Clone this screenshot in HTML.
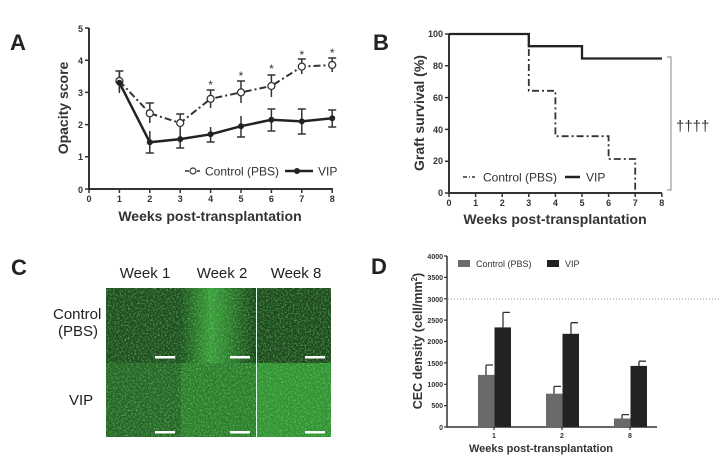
<!DOCTYPE html>
<html><head><meta charset="utf-8"><style>
html,body{margin:0;padding:0;background:#fff;}
svg{display:block;font-family:"Liberation Sans",Arial,sans-serif;}
</style></head><body>
<svg width="720" height="461" viewBox="0 0 720 461" xmlns="http://www.w3.org/2000/svg">
<defs>
<filter id="noise" x="0" y="0" width="100%" height="100%">
<feTurbulence type="fractalNoise" baseFrequency="0.6" numOctaves="2" seed="3" result="t"/>
<feColorMatrix in="t" type="matrix" values="0 0 0 0 0.2  0 0 0 0 0.85  0 0 0 0 0.2  0 0 0 2.2 -0.95" result="c"/>
<feComposite in="c" in2="SourceGraphic" operator="in"/>
</filter>
<linearGradient id="w2" x1="0" x2="1" y1="0" y2="0">
<stop offset="0" stop-color="#1d4d1d"/><stop offset="0.4" stop-color="#3a9a3a"/><stop offset="0.6" stop-color="#2f8030"/><stop offset="1" stop-color="#1a3f1a"/>
</linearGradient>
</defs>
<rect width="720" height="461" fill="#fff"/>

<!-- Panel A -->
<text x="10" y="50" font-size="22" font-weight="bold" fill="#222">A</text>
<path d="M89,28 V189 H333" stroke="#333" stroke-width="2" fill="none"/>
<g stroke="#333" stroke-width="1.5">
<path d="M85,28H89M85,60.2H89M85,92.4H89M85,124.6H89M85,156.8H89M85,189H89"/>
<path d="M89,189V193M119.4,189V193M149.8,189V193M180.2,189V193M210.6,189V193M241,189V193M271.4,189V193M301.8,189V193M332.2,189V193"/>
</g>
<g font-size="9" font-weight="bold" fill="#333" text-anchor="end">
<text x="83" y="32">5</text><text x="83" y="64">4</text><text x="83" y="96">3</text><text x="83" y="128">2</text><text x="83" y="160">1</text><text x="83" y="193">0</text>
</g>
<g font-size="9" font-weight="bold" fill="#333" text-anchor="middle">
<text x="89" y="202">0</text><text x="119.4" y="202">1</text><text x="149.8" y="202">2</text><text x="180.2" y="202">3</text><text x="210.6" y="202">4</text><text x="241" y="202">5</text><text x="271.4" y="202">6</text><text x="301.8" y="202">7</text><text x="332.2" y="202">8</text>
</g>
<text x="210" y="221" font-size="14" font-weight="bold" fill="#333" text-anchor="middle">Weeks post-transplantation</text>
<text transform="translate(68,108) rotate(-90)" font-size="14" font-weight="bold" fill="#333" text-anchor="middle">Opacity score</text>
<g stroke="#333" stroke-width="1.5">
<path d="M119.4,71V91M115.4,71H123.4M149.8,103V123M145.8,103H153.8M180.2,114V132M176.2,114H184.2M210.6,90V108M206.6,90H214.6M241,81V103M237,81H245M271.4,75V97M267.4,75H275.4M301.8,59V74M297.8,59H305.8M332.2,58V72M328.2,58H336.2"/>
<path d="M119.4,72V93M149.8,131V153M145.8,153H153.8M180.2,130V148M176.2,148H184.2M210.6,127V142M206.6,142H214.6M241,116V137M237,137H245M271.4,109V131M267.4,109H275.4M267.4,131H275.4M301.8,109V134M297.8,109H305.8M297.8,134H305.8M332.2,110V127M328.2,110H336.2M328.2,127H336.2"/>
</g>
<polyline points="119.4,81 149.8,113.3 180.2,123 210.6,98.8 241,92.4 271.4,86 301.8,66.6 332.2,65" fill="none" stroke="#333" stroke-width="2" stroke-dasharray="7,3,2,3"/>
<polyline points="119.4,82.7 149.8,142.3 180.2,139.1 210.6,134.3 241,126.2 271.4,119.8 301.8,121.4 332.2,118.2" fill="none" stroke="#222" stroke-width="2.5"/>
<g fill="#fff" stroke="#333" stroke-width="1.3">
<circle cx="119.4" cy="81" r="3.5"/><circle cx="149.8" cy="113.3" r="3.5"/><circle cx="180.2" cy="123" r="3.5"/><circle cx="210.6" cy="98.8" r="3.5"/><circle cx="241" cy="92.4" r="3.5"/><circle cx="271.4" cy="86" r="3.5"/><circle cx="301.8" cy="66.6" r="3.5"/><circle cx="332.2" cy="65" r="3.5"/>
</g>
<g fill="#222">
<circle cx="119.4" cy="82.7" r="3"/><circle cx="149.8" cy="142.3" r="3"/><circle cx="180.2" cy="139.1" r="3"/><circle cx="210.6" cy="134.3" r="3"/><circle cx="241" cy="126.2" r="3"/><circle cx="271.4" cy="119.8" r="3"/><circle cx="301.8" cy="121.4" r="3"/><circle cx="332.2" cy="118.2" r="3"/>
</g>
<g font-size="12" fill="#333" text-anchor="middle">
<text x="210.6" y="89">*</text><text x="241" y="80">*</text><text x="271.4" y="73">*</text><text x="301.8" y="59">*</text><text x="332.2" y="57">*</text>
</g>
<path d="M185,171H200" stroke="#333" stroke-width="1.5" stroke-dasharray="4,2"/>
<circle cx="193" cy="171" r="3" fill="#fff" stroke="#333" stroke-width="1.2"/>
<text x="205" y="175.5" font-size="12" fill="#333">Control (PBS)</text>
<path d="M285,171H313" stroke="#222" stroke-width="2.5"/><circle cx="297" cy="171" r="3" fill="#222"/>
<text x="318" y="175.5" font-size="12" fill="#333">VIP</text>

<!-- Panel B -->
<text x="373" y="50" font-size="22" font-weight="bold" fill="#222">B</text>
<path d="M449,34V193H662" stroke="#333" stroke-width="2" fill="none"/>
<g stroke="#333" stroke-width="1.5">
<path d="M445,34H449M445,65.8H449M445,97.6H449M445,129.4H449M445,161.2H449M445,193H449"/>
<path d="M449,193V197M475.6,193V197M502.2,193V197M528.8,193V197M555.4,193V197M582,193V197M608.6,193V197M635.2,193V197M661.8,193V197"/>
</g>
<g font-size="9" font-weight="bold" fill="#333" text-anchor="end">
<text x="443" y="37">100</text><text x="443" y="69">80</text><text x="443" y="101">60</text><text x="443" y="133">40</text><text x="443" y="164">20</text><text x="443" y="196">0</text>
</g>
<g font-size="9" font-weight="bold" fill="#333" text-anchor="middle">
<text x="449" y="206">0</text><text x="475.6" y="206">1</text><text x="502.2" y="206">2</text><text x="528.8" y="206">3</text><text x="555.4" y="206">4</text><text x="582" y="206">5</text><text x="608.6" y="206">6</text><text x="635.2" y="206">7</text><text x="661.8" y="206">8</text>
</g>
<text x="555" y="224" font-size="14" font-weight="bold" fill="#333" text-anchor="middle">Weeks post-transplantation</text>
<text transform="translate(424,113) rotate(-90)" font-size="14" font-weight="bold" fill="#333" text-anchor="middle">Graft survival (%)</text>
<path d="M528.8,34V90.8H555.4V136.2H608.6V159H635.2V193" fill="none" stroke="#333" stroke-width="1.8" stroke-dasharray="7,3,2,3"/>
<path d="M449,34H528.8V46.2H582V58.5H662" fill="none" stroke="#222" stroke-width="2.3"/>
<path d="M667,57H671V190H667" fill="none" stroke="#999" stroke-width="1.2"/>
<text x="676" y="131" font-size="15" fill="#333">††††</text>
<path d="M463,177H475" stroke="#333" stroke-width="1.5" stroke-dasharray="4,2,1,2"/>
<text x="483" y="181.5" font-size="12" fill="#333">Control (PBS)</text>
<path d="M565,177H580" stroke="#222" stroke-width="2.5"/>
<text x="586" y="181.5" font-size="12" fill="#333">VIP</text>

<!-- Panel C -->
<text x="11" y="275" font-size="22" font-weight="bold" fill="#222">C</text>
<g font-size="15" fill="#222" text-anchor="middle">
<text x="145" y="278">Week 1</text><text x="222" y="278">Week 2</text><text x="296" y="278">Week 8</text>
</g>
<g font-size="15" fill="#222">
<text x="53" y="319">Control</text><text x="58" y="336">(PBS)</text><text x="69" y="405">VIP</text>
</g>
<rect x="106" y="288" width="150" height="75" fill="#1f4a1f"/>
<rect x="181" y="288" width="75" height="75" fill="url(#w2)"/>
<rect x="257" y="288" width="74" height="75" fill="#1e461e"/>
<rect x="106" y="363" width="75" height="74" fill="#276227"/>
<rect x="181" y="363" width="75" height="74" fill="#2e7a2e"/>
<rect x="257" y="363" width="74" height="74" fill="#339033"/>
<rect x="106" y="288" width="225" height="149" fill="#fff" filter="url(#noise)" opacity="0.6"/>
<rect x="256" y="288" width="1" height="149" fill="#dfe"/>
<g fill="#fff">
<rect x="155" y="356" width="20" height="2.5"/><rect x="230" y="356" width="20" height="2.5"/><rect x="305" y="356" width="20" height="2.5"/>
<rect x="155" y="431" width="20" height="2.5"/><rect x="230" y="431" width="20" height="2.5"/><rect x="305" y="431" width="20" height="2.5"/>
</g>

<!-- Panel D -->
<text x="371" y="274" font-size="22" font-weight="bold" fill="#222">D</text>
<path d="M447,256V427H657" stroke="#333" stroke-width="1.5" fill="none"/>
<g stroke="#333" stroke-width="1.2">
<path d="M444,256H447M444,277.4H447M444,298.8H447M444,320.1H447M444,341.5H447M444,362.9H447M444,384.3H447M444,405.6H447M444,427H447"/>
<path d="M494,427V430M562,427V430M630,427V430"/>
</g>
<g font-size="7" font-weight="bold" fill="#333" text-anchor="end">
<text x="443" y="259">4000</text><text x="443" y="280">3500</text><text x="443" y="302">3000</text><text x="443" y="323">2500</text><text x="443" y="344">2000</text><text x="443" y="366">1500</text><text x="443" y="387">1000</text><text x="443" y="408">500</text><text x="443" y="430">0</text>
</g>
<g font-size="7" font-weight="bold" fill="#333" text-anchor="middle">
<text x="494" y="438">1</text><text x="562" y="438">2</text><text x="630" y="438">8</text>
</g>
<text x="541" y="452" font-size="11" font-weight="bold" fill="#333" text-anchor="middle">Weeks post-transplantation</text>
<text transform="translate(422,341) rotate(-90)" font-size="12.5" font-weight="bold" fill="#333" text-anchor="middle">CEC density (cell/mm<tspan font-size="8" dy="-5">2</tspan><tspan dy="5">)</tspan></text>
<path d="M448,299H720" stroke="#999" stroke-width="1" stroke-dasharray="1,2"/>
<g fill="#6a6a6a">
<rect x="478" y="374.9" width="16.5" height="52.1"/><rect x="546" y="393.7" width="16.5" height="33.3"/><rect x="614" y="418.5" width="16.5" height="8.5"/>
</g>
<g fill="#222">
<rect x="494.5" y="327.4" width="16.5" height="99.6"/><rect x="562.5" y="333.8" width="16.5" height="93.2"/><rect x="630.5" y="365.9" width="16.5" height="61.1"/>
</g>
<g stroke="#333" stroke-width="1.3">
<path d="M486,375V365M486,365H493M503,327.4V312.4M503,312.4H510"/>
<path d="M554,393.7V386.4M554,386.4H561M571,333.8V322.7M571,322.7H578"/>
<path d="M622,418.5V414.6M622,414.6H629M639,365.9V361.2M639,361.2H646"/>
</g>
<rect x="458" y="260" width="12" height="7" fill="#6a6a6a"/>
<text x="476" y="267" font-size="9" fill="#333">Control (PBS)</text>
<rect x="547" y="260" width="12" height="7" fill="#222"/>
<text x="565" y="267" font-size="9" fill="#333">VIP</text>
</svg>
</body></html>
